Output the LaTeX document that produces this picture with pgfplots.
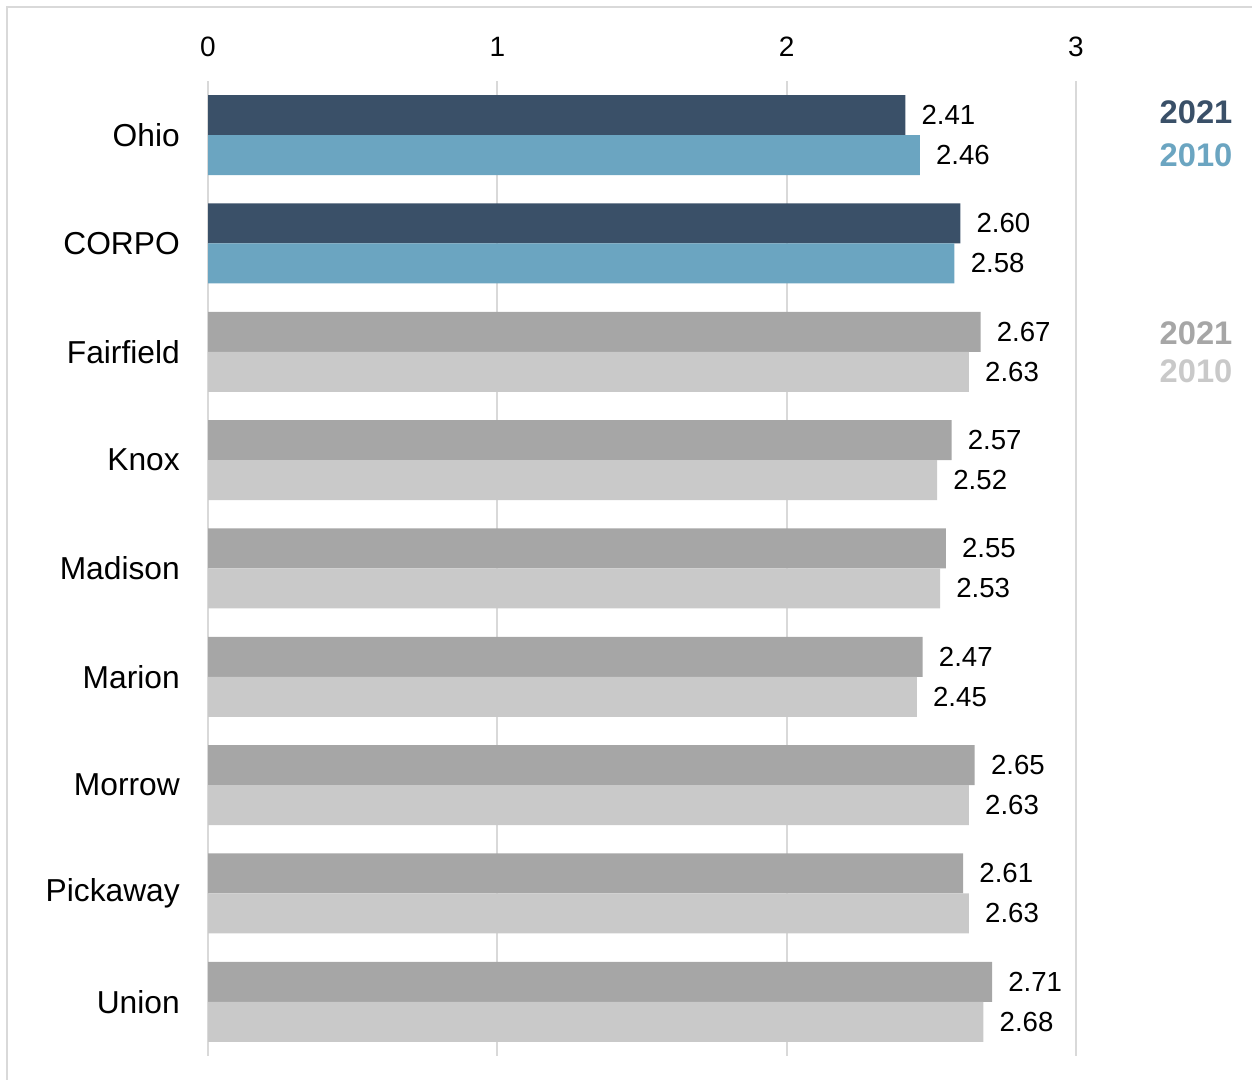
\documentclass[border=0pt]{standalone}
\usepackage{pgfplots}
\pgfplotsset{compat=1.18}
\usepackage{fontspec}
\setmainfont{Liberation Sans}

\definecolor{navy21}{HTML}{3A5068}
\definecolor{blue10}{HTML}{6BA5C1}
\definecolor{gray21}{HTML}{A6A6A6}
\definecolor{gray10}{HTML}{C9C9C9}
\definecolor{gridgray}{HTML}{D9D9D9}

\begin{document}
\begin{tikzpicture}[x=1pt,y=1pt]
\path[use as bounding box] (0,0) rectangle (939,810);
\draw[gridgray, line width=1.5pt] (5.25,0) -- (5.25,804.75) -- (939,804.75);

\begin{axis}[
  at={(156pt,18pt)}, anchor=south west,
  scale only axis, width=651pt, height=731.25pt,
  xmin=0, xmax=3, ymin=-0.5, ymax=8.5,
  xbar, bar width=30pt,
  axis line style={draw=none},
  major tick length=0pt,
  xtick={0,1,2,3},
  xticklabel pos=upper,
  xticklabel style={anchor=south, inner sep=0pt, yshift=18pt, font=\fontsize{21}{21}\selectfont},
  ytick={0,...,8},
  yticklabels={Union,Pickaway,Morrow,Marion,Madison,Knox,Fairfield,CORPO,Ohio},
  yticklabel style={anchor=east, inner sep=0pt, xshift=-21pt, font=\fontsize{23.8}{23.8}\selectfont},
  xmajorgrids, grid style={gridgray, line width=1.6pt},
  /pgf/number format/assume math mode=true,
  point meta=x,
  nodes near coords={\pgfmathprintnumber[fixed,fixed zerofill,precision=2,assume math mode=true]{\pgfplotspointmeta}},
  nodes near coords style={anchor=west, inner sep=0pt, xshift=12pt, font=\fontsize{20.7}{20.7}\selectfont, text=black},
  clip=false,
]
% Ohio and CORPO
\addplot[draw=none, fill=navy21, bar shift=15pt] coordinates {(2.41,8) (2.60,7)};
\addplot[draw=none, fill=blue10, bar shift=-15pt] coordinates {(2.46,8) (2.58,7)};
% counties
\addplot[draw=none, fill=gray21, bar shift=15pt] coordinates {
  (2.67,6) (2.57,5) (2.55,4) (2.47,3) (2.65,2) (2.61,1) (2.71,0)};
\addplot[draw=none, fill=gray10, bar shift=-15pt] coordinates {
  (2.63,6) (2.52,5) (2.53,4) (2.45,3) (2.63,2) (2.63,1) (2.68,0)};
\end{axis}

\node[anchor=east, inner sep=0pt, text=navy21, font=\bfseries\fontsize{24.5}{24.5}\selectfont] at (924.5,726) {2021};
\node[anchor=east, inner sep=0pt, text=blue10, font=\bfseries\fontsize{24.5}{24.5}\selectfont] at (924.5,693.75) {2010};
\node[anchor=east, inner sep=0pt, text=gray21, font=\bfseries\fontsize{24.5}{24.5}\selectfont] at (924.5,560.25) {2021};
\node[anchor=east, inner sep=0pt, text=gray10, font=\bfseries\fontsize{24.5}{24.5}\selectfont] at (924.5,531.75) {2010};
\end{tikzpicture}
\end{document}
